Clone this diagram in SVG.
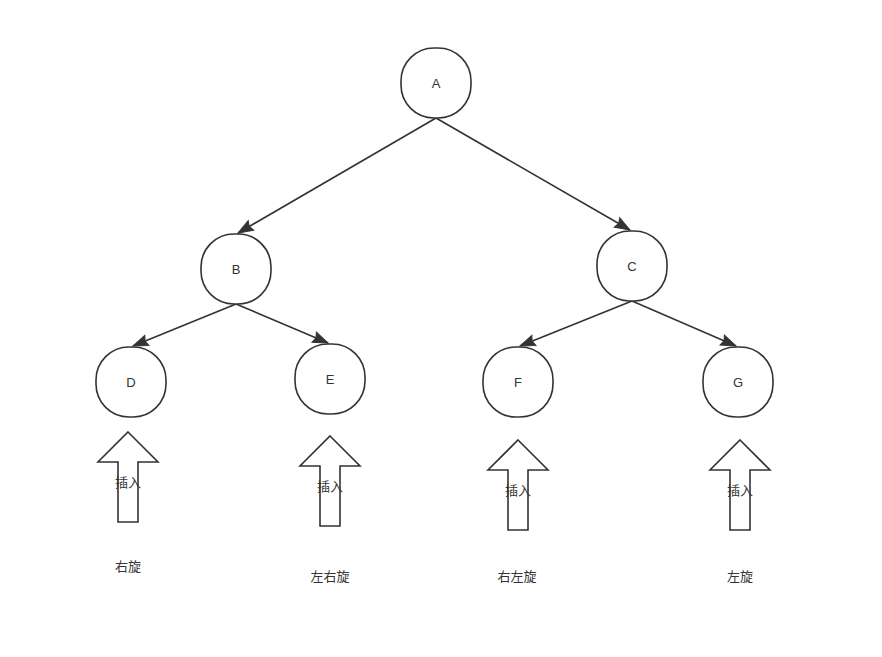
<svg xmlns="http://www.w3.org/2000/svg" width="882" height="657" viewBox="0 0 882 657">
<defs>
<style>
.n{fill:#fff;stroke:#333;stroke-width:1.6}
.t{font-family:"Liberation Sans","Noto Sans CJK SC",sans-serif;font-size:13px;fill:#333;text-anchor:middle;dominant-baseline:central}
.e{stroke:#333;stroke-width:1.6;fill:none;marker-end:url(#ah)}
.ar{fill:#fff;stroke:#333;stroke-width:1.6}
</style>
<marker id="ah" viewBox="0 0 16 12" refX="15" refY="6" markerWidth="16" markerHeight="12" markerUnits="userSpaceOnUse" orient="auto" overflow="visible">
<path d="M0,0.5 L15,6 L0,11.5 L2,6 Z" fill="#333" stroke="#333" stroke-width="1" stroke-linejoin="miter"/>
</marker>
</defs>
<rect width="882" height="657" fill="#fff"/>
<g id="connectors">
<line class="e" x1="436" y1="118" x2="238" y2="233"/>
<line class="e" x1="436" y1="118" x2="630" y2="230"/>
<line class="e" x1="236" y1="304" x2="133" y2="346"/>
<line class="e" x1="236" y1="304" x2="328" y2="343"/>
<line class="e" x1="632" y1="301" x2="520" y2="346"/>
<line class="e" x1="632" y1="301" x2="736" y2="346"/>
</g>
<g id="nodeA"><rect class="n" x="401" y="48" width="70" height="70" rx="33"/><text class="t" x="436" y="83">A</text></g>
<g id="nodeB"><rect class="n" x="201" y="234" width="70" height="70" rx="33"/><text class="t" x="236" y="269">B</text></g>
<g id="nodeC"><rect class="n" x="597" y="231" width="70" height="70" rx="33"/><text class="t" x="632" y="266">C</text></g>
<g id="nodeD"><rect class="n" x="96" y="347" width="70" height="70" rx="33"/><text class="t" x="131" y="382">D</text></g>
<g id="nodeE"><rect class="n" x="295" y="344" width="70" height="70" rx="33"/><text class="t" x="330" y="379">E</text></g>
<g id="nodeF"><rect class="n" x="483" y="347" width="70" height="70" rx="33"/><text class="t" x="518" y="382">F</text></g>
<g id="nodeG"><rect class="n" x="703" y="347" width="70" height="70" rx="33"/><text class="t" x="738" y="382">G</text></g>
<g id="arrowD"><path class="ar" d="M128,432 L158,462 L138,462 L138,522 L118,522 L118,462 L98,462 Z"/><text class="t" x="128" y="482">插入</text></g>
<g id="arrowE"><path class="ar" d="M330,436 L360,466 L340,466 L340,526 L320,526 L320,466 L300,466 Z"/><text class="t" x="330" y="486">插入</text></g>
<g id="arrowF"><path class="ar" d="M518,440 L548,470 L528,470 L528,530 L508,530 L508,470 L488,470 Z"/><text class="t" x="518" y="490">插入</text></g>
<g id="arrowG"><path class="ar" d="M740,440 L770,470 L750,470 L750,530 L730,530 L730,470 L710,470 Z"/><text class="t" x="740" y="490">插入</text></g>
<g id="labels">
<text class="t" x="128" y="566">右旋</text>
<text class="t" x="330" y="576">左右旋</text>
<text class="t" x="517" y="576">右左旋</text>
<text class="t" x="740" y="576">左旋</text>
</g>
</svg>
